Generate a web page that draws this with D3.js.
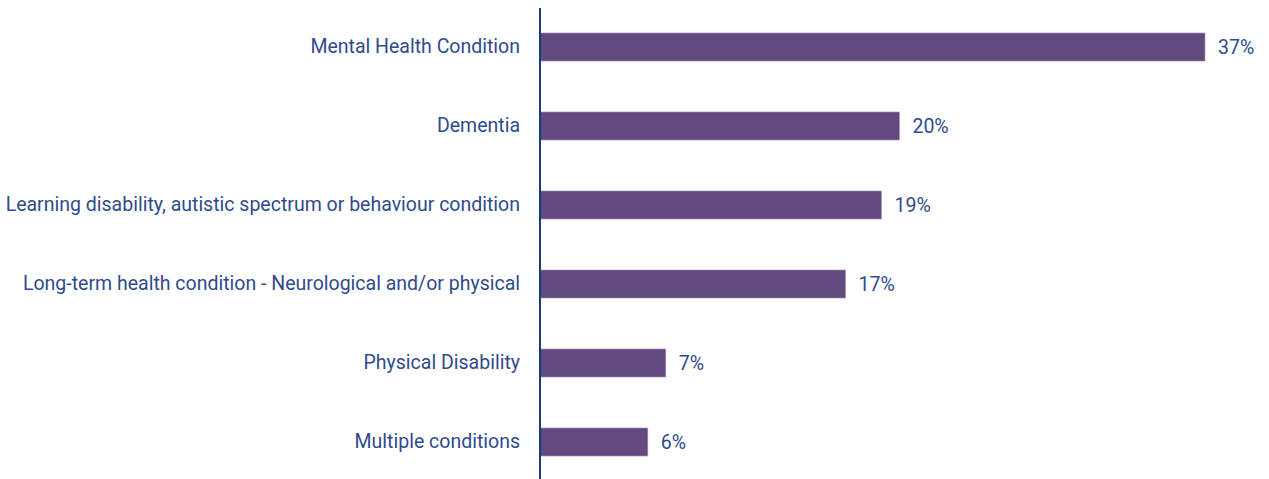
<!DOCTYPE html>
<html>
<head>
<meta charset="utf-8">
<script src="https://cdn.jsdelivr.net/npm/d3@7"></script>
<style>
  html, body { margin: 0; padding: 0; background: #fff; }
  svg { display: block; }
</style>
</head>
<body>
<svg id="chart" width="1269" height="479"></svg>
<script>
// Share of cases by primary condition
const categories = [
  "Mental Health Condition",
  "Dementia",
  "Learning disability, autistic spectrum or behaviour condition",
  "Long-term health condition - Neurological and/or physical",
  "Physical Disability",
  "Multiple conditions"
];
const values = [37, 20, 19, 17, 7, 6];
const valueLabels = ["37%", "20%", "19%", "17%", "7%", "6%"];

const svg = d3.select("#chart");
const axisX = 540;

const x = d3.scaleLinear().domain([0, 37]).range([axisX, 1205]);
const y = d3.scaleBand()
  .domain(categories)
  .range([7.5, 481.5])
  .paddingInner(0.645)
  .paddingOuter(0.3225);

const textColor = "#2f4b8c";
const font = "Roboto, 'Noto Sans', sans-serif";

// bars
svg.selectAll("rect.bar")
  .data(values)
  .join("rect")
  .attr("class", "bar")
  .attr("x", x(0))
  .attr("y", (d, i) => y(categories[i]))
  .attr("width", d => x(d) - x(0))
  .attr("height", y.bandwidth())
  .attr("fill", "#634a7e")
  .attr("stroke", "#a996bd")
  .attr("stroke-width", 0.6);

// value labels
svg.selectAll("text.val")
  .data(values)
  .join("text")
  .attr("class", "val")
  .attr("x", d => x(d) + 13)
  .attr("y", (d, i) => y(categories[i]) + y.bandwidth() / 2)
  .attr("dy", "0.35em")
  .attr("fill", textColor)
  .style("font-family", font)
  .style("font-size", "19.5px")
  .text((d, i) => valueLabels[i]);

// category axis
const axis = d3.axisLeft(y).tickSize(0).tickPadding(20);
const g = svg.append("g").attr("transform", `translate(${axisX},0)`).call(axis);
g.select(".domain").remove();
g.selectAll("text")
  .attr("fill", textColor)
  .style("font-family", font)
  .style("font-size", "19.5px");

svg.append("line")
  .attr("x1", axisX).attr("x2", axisX)
  .attr("y1", 8).attr("y2", 479)
  .attr("stroke", "#1b3a7a")
  .attr("stroke-width", 2);
</script>
</body>
</html>
